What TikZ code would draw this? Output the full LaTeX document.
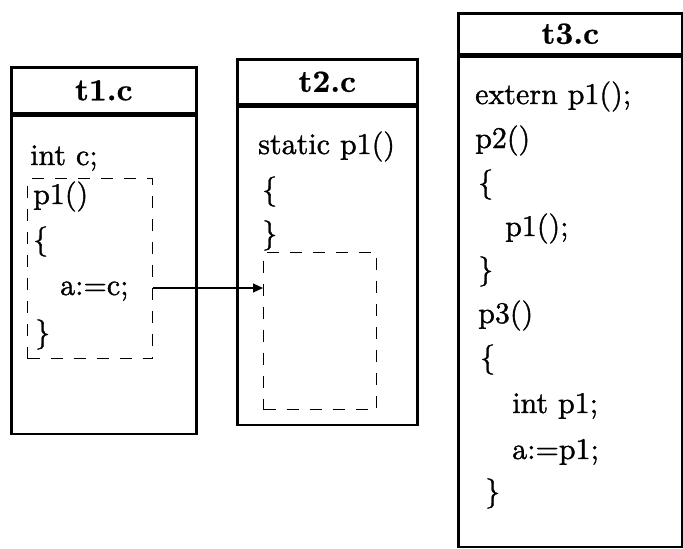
\documentclass[tikz,border=0pt]{standalone}
\usepackage{fontspec}
\newfontfamily\codefont{lmroman10-regular}[Extension=.otf, FakeBold=1.2]
\newfontfamily\titlefont{lmroman10-bold}[Extension=.otf, FakeBold=0.6]
\usetikzlibrary{arrows.meta}
\begin{document}
\begin{tikzpicture}[x=1pt,y=-1pt,
  frame/.style={draw, line width=2.6pt, inner sep=0pt, anchor=north west},
  headbox/.style={frame, font=\titlefont\fontsize{31}{34}\selectfont},
  code/.style={anchor=west, inner sep=0pt, text height=22pt, text depth=8pt,
               font=\codefont\fontsize{30}{34}\selectfont},
  dbox/.style={draw, line width=1.3pt, dash pattern=on 12pt off 11pt,
               inner sep=0pt, anchor=north west},
  link/.style={line width=1.2pt, -{Triangle[length=10pt,width=9pt]}}]
\useasboundingbox (0,0) rectangle (683,549);

% t1.c
\node[headbox, minimum width=185pt, minimum height=46pt] (t1h) at (10,66) {t1.c};
\node[frame, minimum width=185pt, minimum height=318pt] (t1b) at (t1h.south west) {};
\node[dbox, minimum width=125pt, minimum height=180pt] (d1) at (27,178) {};
\node[code] (t1a) at (30,158) {int c;};
\node[code] (t1p) at (33,197) {p1()};
\node[code] (t1o) at (33,242) {\{};
\node[code] (ac)  at (60,288) {a:=c;};
\node[code] (t1c) at (35,335) {\}};

% t2.c
\node[headbox, minimum width=180pt, minimum height=45pt] (t2h) at (236,58) {t2.c};
\node[frame, minimum width=180pt, minimum height=318pt] (t2b) at (t2h.south west) {};
\node[dbox, minimum width=113pt, minimum height=157pt] (d2) at (263,252) {};
\node[code] (t2s) at (258,147) {static p1()};
\node[code] (t2o) at (262,192) {\{};
\node[code] (t2c) at (262,236) {\}};

% t3.c
\node[headbox, minimum width=224pt, minimum height=41pt] (t3h) at (457,12) {t3.c};
\node[frame, minimum width=224pt, minimum height=490pt] (t3b) at (t3h.south west) {};
\node[code] (e1) at (475,97)  {extern p1();};
\node[code] (e2) at (475,141) {p2()};
\node[code] (e3) at (478,185) {\{};
\node[code] (e4) at (505,229) {p1();};
\node[code] (e5) at (478,272) {\}};
\node[code] (e6) at (478,316) {p3()};
\node[code] (e7) at (480,360) {\{};
\node[code] (e8) at (512,406) {int p1;};
\node[code] (e9) at (512,452) {a:=p1;};
\node[code] (e10) at (485,494) {\}};

% connector
\draw[link] (d1.east |- ac.west) -- (d2.west |- ac.west);
\end{tikzpicture}
\end{document}
